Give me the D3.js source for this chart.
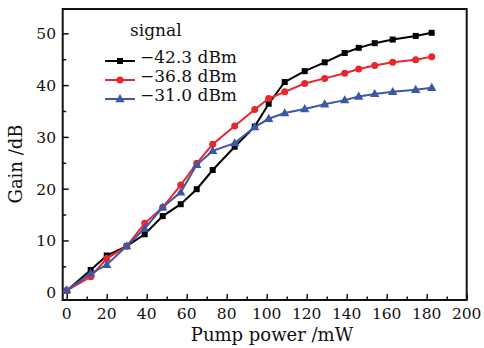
<!DOCTYPE html>
<html>
<head>
<meta charset="utf-8">
<script src="https://cdn.jsdelivr.net/npm/d3@7"></script>
<style>
  body { margin: 0; background: #fff; }
  svg text { font-family: "DejaVu Serif", "Liberation Serif", serif; fill: #111; }
</style>
</head>
<body>
<div id="chart"></div>
<script>
// pump power (mW)
const pump = [0, 12, 20, 30, 39, 48, 57, 65, 73, 84, 94, 101, 109, 119, 129, 139, 146, 154, 163, 174.5, 182.5];
const gainA = [0.3, 4.3, 7.1, 8.9, 11.2, 14.7, 17.0, 19.9, 23.6, 28.1, 32.0, 36.4, 40.6, 42.7, 44.4, 46.2, 47.2, 48.1, 48.8, 49.5, 50.1];
const gainB = [0.3, 3.0, 6.5, 8.9, 13.3, 16.4, 20.7, 24.9, 28.6, 32.1, 35.3, 37.4, 38.7, 40.3, 41.3, 42.3, 43.1, 43.8, 44.4, 44.9, 45.5];
const gainC = [0.4, 3.6, 5.3, 8.9, 12.3, 16.4, 19.3, 24.6, 27.3, 28.8, 31.9, 33.5, 34.6, 35.4, 36.3, 37.1, 37.8, 38.3, 38.7, 39.1, 39.5];
const seriesNames = ['\u221242.3 dBm', '\u221236.8 dBm', '\u221231.0 dBm'];
const xTicks = [0, 20, 40, 60, 80, 100, 120, 140, 160, 180, 200];
const yTicks = [0, 10, 20, 30, 40, 50];

const W = 484, H = 348;
const svg = d3.select('#chart').append('svg').attr('width', W).attr('height', H);

const x = d3.scaleLinear().domain([-2, 200]).range([62.7, 466.7]);
const y = d3.scaleLinear().domain([-1.5, 54.7]).range([300, 9]);

const series = [
  { name: seriesNames[0], values: gainA, color: '#000000', shape: 'square' },
  { name: seriesNames[1], values: gainB, color: '#e8262b', shape: 'circle' },
  { name: seriesNames[2], values: gainC, color: '#3b57a6', shape: 'triangle' }
];

// axes, ticks point inward
const xAxis = d3.axisBottom(x).tickValues(d3.range(0, 201, 10)).tickSizeInner(-3.5).tickSizeOuter(0).tickFormat('');
const gx = svg.append('g').attr('transform', `translate(0,${y.range()[0]})`).call(xAxis);
gx.selectAll('.tick line').filter(d => d % 20 === 0).attr('y2', -6);
gx.select('.domain').remove();
gx.selectAll('.tick line').attr('stroke', '#111').attr('stroke-width', 1.5);

const yAxis = d3.axisLeft(y).tickValues(d3.range(0, 51, 5)).tickSizeInner(-3.5).tickSizeOuter(0).tickFormat('');
const gy = svg.append('g').attr('transform', `translate(${x.range()[0]},0)`).call(yAxis);
gy.selectAll('.tick line').filter(d => d % 10 === 0).attr('x2', 6);
gy.select('.domain').remove();
gy.selectAll('.tick line').attr('stroke', '#111').attr('stroke-width', 1.5);

svg.append('rect')
  .attr('x', x.range()[0]).attr('y', y.range()[1])
  .attr('width', x.range()[1] - x.range()[0]).attr('height', y.range()[0] - y.range()[1])
  .attr('fill', 'none').attr('stroke', '#111').attr('stroke-width', 2);

svg.selectAll('.xlab').data(xTicks).enter().append('text')
  .attr('x', d => x(d)).attr('y', 319)
  .attr('text-anchor', 'middle').attr('font-size', '15.5px')
  .text(d => d);

svg.selectAll('.ylab').data(yTicks).enter().append('text')
  .attr('x', 56).attr('y', d => y(d) + 6)
  .attr('text-anchor', 'end').attr('font-size', '15.5px')
  .text(d => d);

svg.append('text').attr('x', 272).attr('y', 341)
  .attr('text-anchor', 'middle').attr('font-size', '18px')
  .text('Pump power /mW');

svg.append('text').attr('transform', 'translate(22,164) rotate(-90)')
  .attr('text-anchor', 'middle').attr('font-size', '18px')
  .text('Gain /dB');

const line = d3.line().x(d => x(d[0])).y(d => y(d[1]));

function marker(g, shape, color, cx, cy) {
  if (shape === 'square') {
    g.append('rect').attr('x', cx - 3).attr('y', cy - 3).attr('width', 6).attr('height', 6).attr('fill', color);
  } else if (shape === 'circle') {
    g.append('circle').attr('cx', cx).attr('cy', cy).attr('r', 3.5).attr('fill', color);
  } else {
    g.append('path').attr('d', d3.symbol(d3.symbolTriangle, 38)()).attr('transform', `translate(${cx},${cy + 0.5})`).attr('fill', color);
  }
}

series.forEach(s => {
  const pts = pump.map((p, i) => [p, s.values[i]]);
  const g = svg.append('g');
  g.append('path').datum(pts).attr('d', line)
    .attr('fill', 'none').attr('stroke', s.color).attr('stroke-width', 2);
  pts.forEach(p => marker(g, s.shape, s.color, x(p[0]), y(p[1])));
});

// legend
const lg = svg.append('g');
lg.append('text').attr('x', 130).attr('y', 36).attr('font-size', '17px').text('signal');
series.forEach((s, i) => {
  const ly = 61 + i * 19;
  lg.append('line').attr('x1', 105).attr('x2', 135).attr('y1', ly).attr('y2', ly)
    .attr('stroke', s.color).attr('stroke-width', 2);
  marker(lg, s.shape, s.color, 120, ly);
  lg.append('text').attr('x', 140).attr('y', ly + 2).attr('font-size', '17px').text(s.name);
});
</script>
</body>
</html>
